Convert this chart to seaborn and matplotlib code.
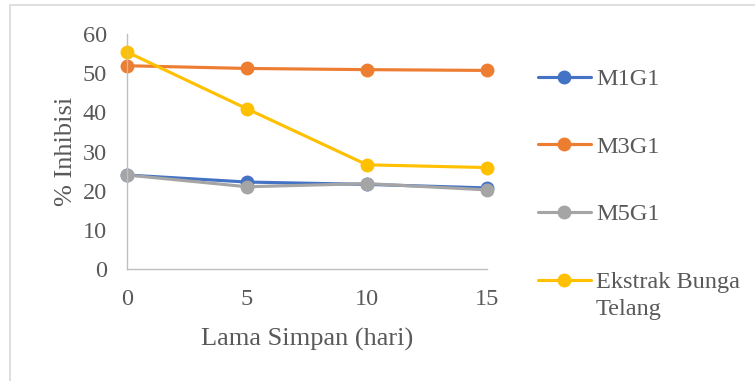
import matplotlib
matplotlib.use("Agg")
import matplotlib.pyplot as plt
import seaborn as sns
import pandas as pd
from matplotlib.patches import Rectangle

days = [0, 5, 10, 15]
m1g1 = [24.0, 22.2, 21.6, 20.7]
m3g1 = [51.9, 51.2, 50.9, 50.7]
m5g1 = [24.0, 21.0, 21.8, 20.2]
ekstrak = [55.4, 40.9, 26.6, 25.9]

series_names = ["M1G1", "M3G1", "M5G1", "Ekstrak Bunga"]
series_values = [m1g1, m3g1, m5g1, ekstrak]
colors = ["#4472C4", "#ED7D31", "#A5A5A5", "#FFC000"]

rows = []
for name, vals in zip(series_names, series_values):
    for d, v in zip(days, vals):
        rows.append({"Lama Simpan (hari)": d, "% Inhibisi": v, "Seri": name})
df = pd.DataFrame(rows)

sns.set_theme(style="white")
plt.rcParams["font.family"] = ["Liberation Serif", "DejaVu Serif"]

W, H = 755, 381
fig = plt.figure(figsize=(W / 100, H / 100), dpi=100)
ax = fig.add_axes([127 / W, 1 - 269 / H, 360 / W, 235 / H])

sns.lineplot(
    data=df, x="Lama Simpan (hari)", y="% Inhibisi", hue="Seri",
    hue_order=series_names, palette=colors, marker="o", markersize=10,
    markeredgewidth=0, linewidth=2.25, ax=ax, legend=True,
)

text_color = "#595959"
tick_fs = 17.5
title_fs = 19
ax.set_xlim(0, 15)
ax.set_ylim(0, 60)
ax.set_xticks(days)
ax.set_yticks(range(0, 61, 10))
ax.tick_params(axis="both", length=0, labelsize=tick_fs, colors=text_color)
ax.tick_params(axis="x", pad=14.4)
ax.tick_params(axis="y", pad=14.4)
for s in ["top", "right"]:
    ax.spines[s].set_visible(False)
for s in ["left", "bottom"]:
    ax.spines[s].set_color("#BFBFBF")
    ax.spines[s].set_linewidth(1.0)
ax.set_xlabel("Lama Simpan (hari)", fontsize=title_fs, color=text_color, labelpad=13)
ax.set_ylabel("% Inhibisi", fontsize=title_fs, color=text_color, labelpad=4.5)
for line in ax.lines:
    line.set_clip_on(False)

handles, labels = ax.get_legend_handles_labels()
leg = ax.legend(
    handles, labels, loc="upper left", bbox_to_anchor=(538 / W, 1 - 68 / H),
    bbox_transform=fig.transFigure, frameon=False, fontsize=tick_fs,
    labelcolor=text_color, handlelength=2.18, handletextpad=0.2,
    labelspacing=1.88, borderpad=0, borderaxespad=0,
)

# second line of the last legend label, placed under its first line
fig.canvas.draw()
last = leg.get_texts()[-1].get_window_extent()
fig.text(last.x0 / W, (last.y0 - 27) / H, "Telang", fontsize=tick_fs,
         color=text_color, ha="left", va="bottom")

fig.patches.append(Rectangle((10 / W, -0.1), 2, 1.1 - 5 / H, transform=fig.transFigure,
                             fill=False, edgecolor="#D9D9D9", linewidth=1.2))

fig.savefig("out.png", dpi=100)
